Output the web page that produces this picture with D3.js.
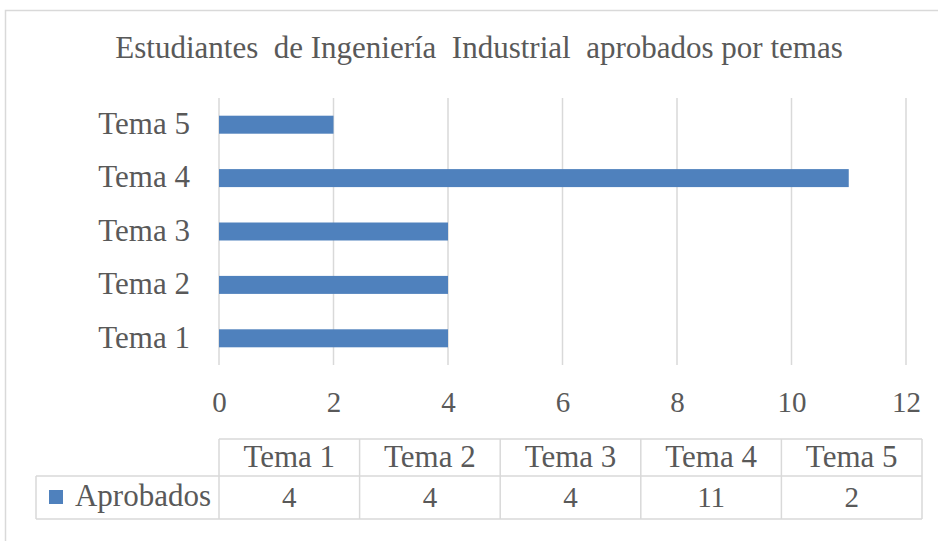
<!DOCTYPE html>
<html>
<head>
<meta charset="utf-8">
<script src="https://cdn.jsdelivr.net/npm/d3@7"></script>
<style>
  html, body { margin: 0; padding: 0; background: #fff; }
  svg text { font-family: "Liberation Serif", "Times New Roman", serif; fill: #595959; white-space: pre; }
</style>
</head>
<body>
<svg id="chart" width="938" height="541"></svg>
<script>
const title = "Estudiantes  de Ingeniería  Industrial  aprobados por temas";
const categories = ["Tema 1", "Tema 2", "Tema 3", "Tema 4", "Tema 5"];
const seriesName = "Aprobados";
const values = [4, 4, 4, 11, 2];
const xTicks = [0, 2, 4, 6, 8, 10, 12];

const svg = d3.select("#chart");
const barColor = "#4f81bd";
const gridColor = "#d9d9d9";

// outer chart border
svg.append("rect").attr("x", 5.5).attr("y", 10.5).attr("width", 940).attr("height", 540)
  .attr("fill", "none").attr("stroke", gridColor).attr("stroke-width", 1.5);

// title
svg.append("text").attr("x", 479).attr("y", 58).attr("text-anchor", "middle")
  .style("font-size", "31px").text(title);

const x = d3.scaleLinear().domain([0, 12]).range([219, 906]);
const y = d3.scaleBand().domain(categories.slice().reverse()).range([98, 365]).paddingInner(0.663).paddingOuter(0.3315);

// gridlines
svg.append("g").selectAll("line").data(xTicks).join("line")
  .attr("x1", d => x(d)).attr("x2", d => x(d)).attr("y1", 98).attr("y2", 365)
  .attr("stroke", gridColor).attr("stroke-width", 1.5);

// bars
svg.append("g").selectAll("rect").data(categories).join("rect")
  .attr("x", x(0)).attr("y", d => y(d))
  .attr("width", (d, i) => x(values[i]) - x(0)).attr("height", y.bandwidth())
  .attr("fill", barColor);

// y axis labels
const yAxis = d3.axisLeft(y).tickSize(0).tickPadding(29);
const gy = svg.append("g").attr("transform", `translate(${x(0)},0)`).call(yAxis);
gy.select(".domain").remove();
gy.selectAll("text").style("font-size", "31px").style("font-family", null).attr("fill", null).attr("dy", "0.3em");

// x axis labels
const xAxis = d3.axisBottom(x).tickValues(xTicks).tickSize(0).tickPadding(0);
const gx = svg.append("g").attr("transform", `translate(0,412)`).call(xAxis);
gx.select(".domain").remove();
gx.selectAll("text").style("font-size", "29px").style("font-family", null).attr("fill", null).attr("dy", 0);

// data table
const colX = d3.scaleBand().domain(categories).range([219, 922]);
const hdrTop = 439, rowMid = 476, rowBot = 519, tableLeft = 36;
const tg = svg.append("g");
const lineStyle = sel => sel.attr("stroke", gridColor).attr("stroke-width", 1.5);
// horizontal lines
tg.append("line").attr("x1", 219).attr("x2", 922).attr("y1", hdrTop).attr("y2", hdrTop).call(lineStyle);
tg.append("line").attr("x1", tableLeft).attr("x2", 922).attr("y1", rowMid).attr("y2", rowMid).call(lineStyle);
tg.append("line").attr("x1", tableLeft).attr("x2", 922).attr("y1", rowBot).attr("y2", rowBot).call(lineStyle);
// vertical lines
const vx = categories.map(c => colX(c)).concat([922]);
tg.selectAll("line.v").data(vx).join("line").attr("class", "v")
  .attr("x1", d => d).attr("x2", d => d).attr("y1", hdrTop).attr("y2", rowBot).call(lineStyle);
tg.append("line").attr("x1", tableLeft).attr("x2", tableLeft).attr("y1", rowMid).attr("y2", rowBot).call(lineStyle);

// header texts
tg.selectAll("text.h").data(categories).join("text").attr("class", "h")
  .attr("x", d => colX(d) + colX.bandwidth() / 2).attr("y", 467)
  .attr("text-anchor", "middle").style("font-size", "31px").text(d => d);
// value texts
tg.selectAll("text.v").data(values).join("text").attr("class", "v")
  .attr("x", (d, i) => colX(categories[i]) + colX.bandwidth() / 2).attr("y", 507)
  .attr("text-anchor", "middle").style("font-size", "29px").text(d => d);
// legend key + series name
tg.append("rect").attr("x", 49).attr("y", 490).attr("width", 14).attr("height", 14).attr("fill", barColor);
tg.append("text").attr("x", 211).attr("y", 506).attr("text-anchor", "end").style("font-size", "31px").text(seriesName);
</script>
</body>
</html>
